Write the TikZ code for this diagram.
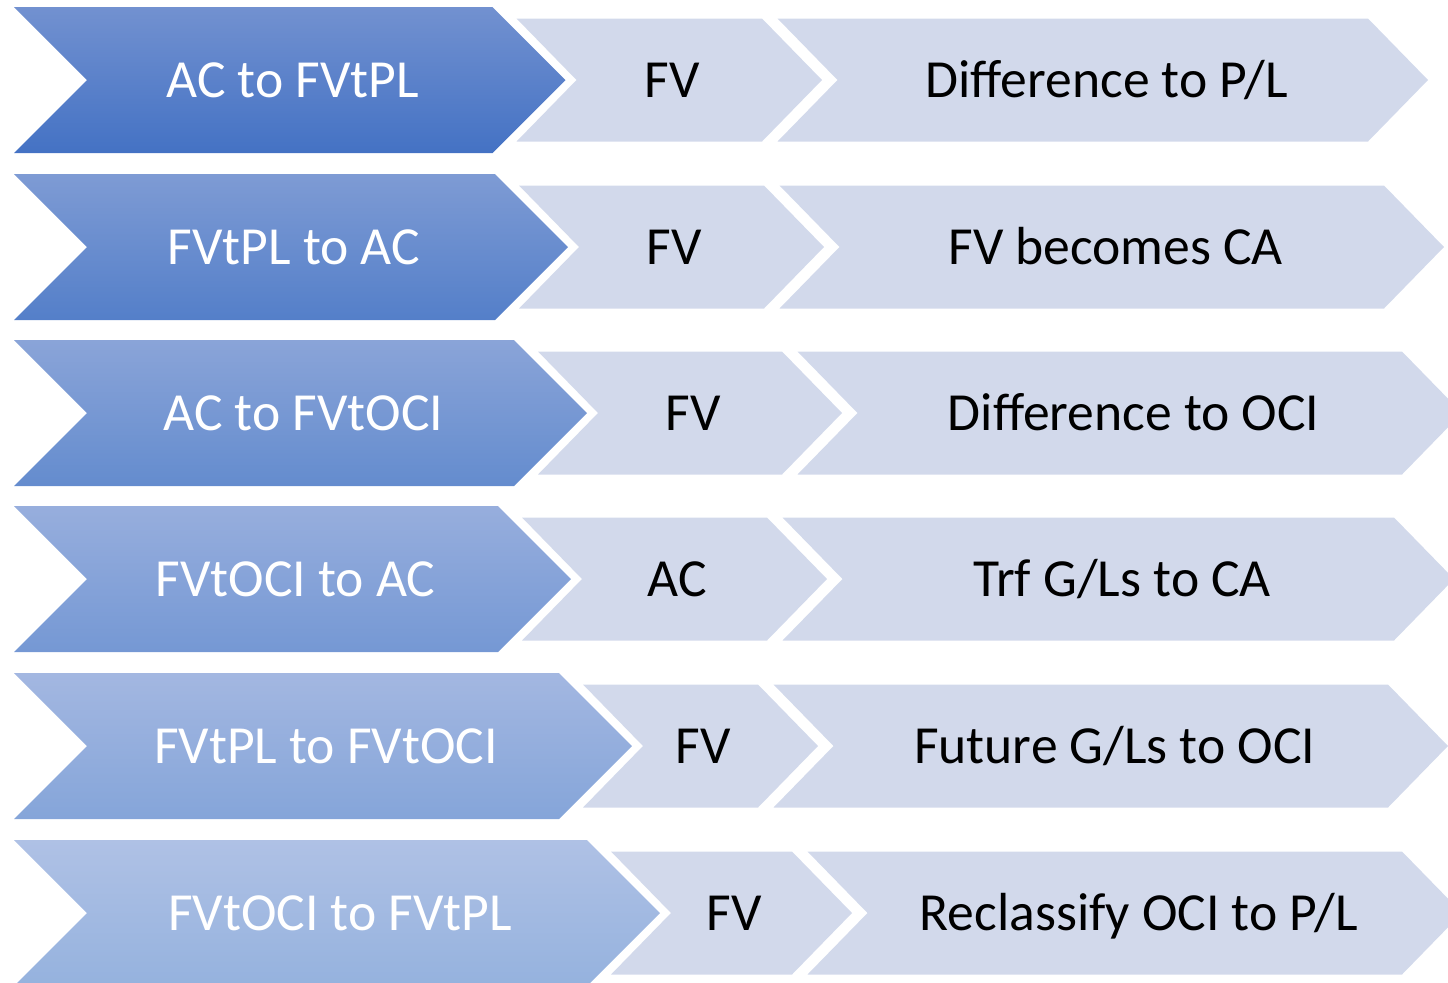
\documentclass[tikz,border=0pt]{standalone}
\usepackage{fontspec}
\setmainfont{Carlito}

% gradient colours of the leading chevrons, darkest row first
\definecolor{bt1}{RGB}{114,145,208}\definecolor{bb1}{RGB}{68,114,196}
\definecolor{bt2}{RGB}{126,155,212}\definecolor{bb2}{RGB}{84,127,201}
\definecolor{bt3}{RGB}{138,164,216}\definecolor{bb3}{RGB}{100,140,206}
\definecolor{bt4}{RGB}{151,174,221}\definecolor{bb4}{RGB}{117,152,212}
\definecolor{bt5}{RGB}{163,183,225}\definecolor{bb5}{RGB}{133,165,217}
\definecolor{bt6}{RGB}{175,193,229}\definecolor{bb6}{RGB}{149,178,222}
\definecolor{paleblue}{RGB}{210,217,235}

\tikzset{
  lbl/.style={anchor=base, inner sep=0pt, font=\fontsize{26.8}{32}\selectfont},
  headtxt/.style={lbl, text=white},
  steptxt/.style={lbl, text=black},
  pale/.style={fill=paleblue},
}

% #1 row, #2 centre y, #3 top-right x of lead chevron,
% #4 top-right x of middle chevron, #5 top-right x of last chevron,
% #6-#8 texts
\newcommand\chevrow[8]{%
  \shade[top color=bt#1, bottom color=bb#1]
    (14,#2-73) -- (#3,#2-73) -- (#3+73,#2) -- (#3,#2+73) -- (14,#2+73) -- (87,#2) -- cycle;
  \fill[pale]
    (#3+24,#2-61.5) -- (#4,#2-61.5) -- (#4+60,#2) -- (#4,#2+61.5) -- (#3+24,#2+61.5) -- (#3+84,#2) -- cycle;
  \fill[pale]
    (#4+15.5,#2-61.5) -- (#5,#2-61.5) -- (#5+60,#2) -- (#5,#2+61.5) -- (#4+15.5,#2+61.5) -- (#4+75.5,#2) -- cycle;
  \node[headtxt] (head#1) at ({(#3+87)/2+3},#2+17.2) {#6};
  \node[steptxt] (meas#1) at ({(#3+#4+84)/2+3},#2+17.2) {#7};
  \node[steptxt] (effect#1) at ({(#4+#5+75.5)/2+4},#2+17.2) {#8};
}

\begin{document}
\begin{tikzpicture}[x=0.5pt, y=-0.5pt]
  \useasboundingbox (0,0) rectangle (1448,982);
  \clip (0,0) rectangle (1448,982);
  \chevrow{1}{80}{492.5}{762}{1368}{AC to FVtPL}{FV}{Difference to P/L}
  \chevrow{2}{247}{495}{764}{1384}{FVtPL to AC}{FV}{FV becomes CA}
  \chevrow{3}{413}{514}{782}{1402}{AC to FVtOCI}{FV}{Difference to OCI}
  \chevrow{4}{579}{498}{767}{1394}{FVtOCI to AC}{AC}{Trf G/Ls to CA}
  \chevrow{5}{746}{559}{758}{1388}{FVtPL to FVtOCI}{FV}{Future G/Ls to OCI}
  \chevrow{6}{913}{587}{792}{1402}{FVtOCI to FVtPL}{FV}{Reclassify OCI to P/L}
\end{tikzpicture}
\end{document}
